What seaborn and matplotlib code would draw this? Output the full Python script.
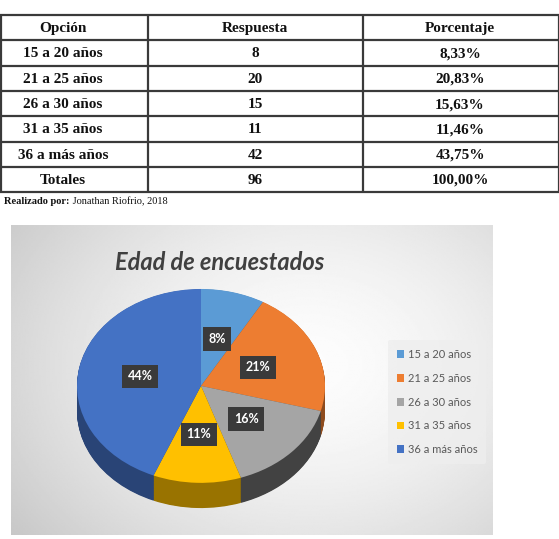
import numpy as np
import matplotlib
matplotlib.use("Agg")
import matplotlib.pyplot as plt
import matplotlib.colors as mcolors
import matplotlib.transforms as mtrans
from matplotlib.patches import Patch
import seaborn as sns

# datos de la tabla / grafico
opciones = ["15 a 20 años", "21 a 25 años", "26 a 30 años", "31 a 35 años", "36 a más años"]
respuestas = [8, 20, 15, 11, 42]
porcentajes = ["8,33%", "20,83%", "15,63%", "11,46%", "43,75%"]
total_resp = 96
total_pct = "100,00%"
encabezados = ["Opción", "Respuesta", "Porcentaje"]
titulo = "Edad de encuestados"
fuente_bold = "Realizado por:"
fuente_txt = " Jonathan Riofrio, 2018"

sns.set_style("white")
colores = sns.color_palette(["#5B9BD5", "#ED7D31", "#A5A5A5", "#FFC000", "#4472C4"])
plt.rcParams['font.family'] = ['DejaVu Sans']

W, H = 559, 539
fig = plt.figure(figsize=(W / 100, H / 100), dpi=100)
fig.patch.set_facecolor("white")

def fx(px):
    return px / W

def fy(py):
    return 1 - py / H

# ---- fondo del grafico (degradado gris) ----
cx0, cy0, cx1, cy1 = 11, 225, 493, 535
ax_bg = fig.add_axes([fx(cx0), fy(cy1), fx(cx1 - cx0), (cy1 - cy0) / H])
gx, gy = np.meshgrid(np.linspace(0, 1, 300), np.linspace(0, 1, 200))
dist = np.sqrt(((gx - 0.62) / 0.75) ** 2 + ((gy - 0.45) / 0.9) ** 2)
grad = np.clip(0.99 - 0.2 * dist ** 1.6, 0, 1)
ax_bg.imshow(grad, cmap="gray", vmin=0, vmax=1, aspect="auto", extent=[0, 1, 0, 1])
ax_bg.set_axis_off()

# ---- pastel 3D (capas apiladas) ----
depth = 0.26
ax = fig.add_axes([fx(77), fy(510), fx(325 - 77), (510 - 288) / H])
oscuros = [tuple(np.array(mcolors.to_rgb(c)) * 0.6) for c in colores]
oscuros[2] = tuple(np.array(mcolors.to_rgb(colores[2])) * 0.4)
for off in np.linspace(depth, 0.004, 40):
    ax.pie(respuestas, colors=oscuros, startangle=90, counterclock=False,
           center=(0, -off), wedgeprops=dict(linewidth=0))
wedges, _, autotexts = ax.pie(respuestas, colors=colores, startangle=90, counterclock=False,
                              autopct=lambda p: f"{p:.0f}%", pctdistance=0.5,
                              wedgeprops=dict(linewidth=0))
for t in autotexts:
    t.set_color("white")
    t.set_fontweight("bold")
    t.set_fontsize(9)
    t.set_fontfamily("Lato")
    t.set_bbox(dict(boxstyle="square,pad=0.45", facecolor="#3a3a3a", edgecolor="none"))
ax.set_aspect("auto")
ax.set_xlim(-1.0, 1.0)
ax.set_ylim(-1 - depth - 0.02, 1.01)
ax.set_axis_off()

fig.text(fx(220), fy(262), titulo, ha="center", va="center", fontsize=17,
         fontstyle="italic", fontweight="bold", color="#404040", family="Lato")

handles = [Patch(facecolor=c, edgecolor="none") for c in colores]
leg = fig.legend(handles, opciones, loc="center", bbox_to_anchor=(fx(437), fy(402)),
                 frameon=True, labelspacing=1.15, handlelength=0.7,
                 handleheight=0.7, handletextpad=0.3, borderpad=0.8,
                 prop={"family": "Lato", "size": 8})
leg.get_frame().set_facecolor("#eeeeee")
leg.get_frame().set_edgecolor("none")
leg.get_frame().set_alpha(0.8)
for t in leg.get_texts():
    t.set_color("#595959")

# ---- tabla ----
ax_t = fig.add_axes([0, 0, 1, 1])
ax_t.set_xlim(0, W)
ax_t.set_ylim(H, 0)
ax_t.set_axis_off()
ax_t.patch.set_alpha(0)

top, rh = 15, 25.3
nfilas = len(opciones) + 2
lineas_y = [top + i * rh for i in range(nfilas + 1)]
ax_t.hlines(lineas_y, 0, W, color="#3a3a3a", lw=1.6)
ax_t.vlines([0.5, 148, 363, W - 0.5], lineas_y[0], lineas_y[-1], color="#3a3a3a", lw=1.6)

col_x = [63, 255, 460]
filas = [encabezados]
for o, r, p in zip(opciones, respuestas, porcentajes):
    filas.append([o, str(r), p])
filas.append(["Totales", str(total_resp), total_pct])
for i, fila in enumerate(filas):
    yc = top + (i + 0.5) * rh + 1
    for x, txt in zip(col_x, fila):
        ax_t.text(x, yc, txt, ha="center", va="center", fontsize=11,
                  fontweight="bold", family="Liberation Serif", color="#111111")

t1 = ax_t.text(4, 204, fuente_bold, ha="left", va="baseline", fontsize=7.5,
               fontweight="bold", family="Liberation Serif", color="#111111")
fig.canvas.draw()
bb = t1.get_window_extent()
ax_t.text(bb.x1 + 1, 204, fuente_txt, ha="left", va="baseline", fontsize=7.5,
          family="Liberation Serif", color="#111111",
          transform=mtrans.blended_transform_factory(mtrans.IdentityTransform(), ax_t.transData))

fig.savefig("out.png", dpi=100)
